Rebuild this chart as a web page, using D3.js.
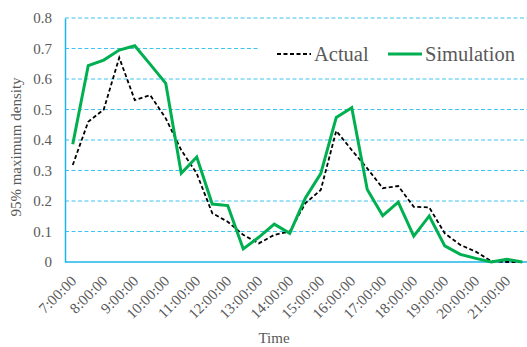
<!DOCTYPE html>
<html><head><meta charset="utf-8">
<script src="https://cdn.jsdelivr.net/npm/d3@7"></script>
<style>body{margin:0;background:#fff}svg{display:block}</style>
</head><body>
<svg id="c" width="527" height="347"></svg>
<script>
const times = ["7:00:00","7:30:00","8:00:00","8:30:00","9:00:00","9:30:00","10:00:00","10:30:00","11:00:00","11:30:00","12:00:00","12:30:00","13:00:00","13:30:00","14:00:00","14:30:00","15:00:00","15:30:00","16:00:00","16:30:00","17:00:00","17:30:00","18:00:00","18:30:00","19:00:00","19:30:00","20:00:00","20:30:00","21:00:00","21:30:00"];
const actual = [0.318,0.46,0.50,0.67,0.531,0.547,0.471,0.367,0.29,0.16,0.132,0.089,0.061,0.089,0.10,0.192,0.236,0.43,0.367,0.307,0.242,0.249,0.181,0.179,0.094,0.056,0.034,0.003,0,0];
const simulation = [0.386,0.644,0.662,0.695,0.709,0.648,0.586,0.291,0.344,0.19,0.185,0.043,0.081,0.124,0.094,0.209,0.29,0.474,0.506,0.238,0.152,0.196,0.085,0.151,0.053,0.025,0.012,0,0.009,0];
const tickLabels = ["7:00:00","8:00:00","9:00:00","10:00:00","11:00:00","12:00:00","13:00:00","14:00:00","15:00:00","16:00:00","17:00:00","18:00:00","19:00:00","20:00:00","21:00:00"];
const yTicks = [0,0.1,0.2,0.3,0.4,0.5,0.6,0.7,0.8];

const svg = d3.select("#c");
const font = "'Liberation Serif','Times New Roman',serif";
const x = d3.scalePoint().domain(times).range([65,530]).padding(0.5);
const y = d3.scaleLinear().domain([0,0.8]).range([262,18]);
const gridC = "#3fc3f0", axisC = "#1eb4ea", textC = "#595959";

svg.append("g").selectAll("line").data(yTicks.filter(d=>d>0)).join("line")
  .attr("x1",65).attr("x2",527).attr("y1",d=>y(d)).attr("y2",d=>y(d))
  .attr("stroke",gridC).attr("stroke-width",1).attr("stroke-dasharray","4,2.5");

const ya = svg.append("g").attr("transform","translate(65,0)")
  .call(d3.axisLeft(y).tickValues(yTicks).tickSize(0).tickPadding(13).tickFormat(d=>d===0?"0":d3.format(".1f")(d)));
ya.select(".domain").attr("stroke",axisC).attr("stroke-width",1.5);
ya.selectAll("text").attr("font-family",font).attr("font-size",15).attr("fill",textC);

const xa = svg.append("g").attr("transform","translate(0,262)")
  .call(d3.axisBottom(x).tickValues(tickLabels).tickSize(0).tickFormat(d=>d));
xa.select(".domain").attr("d","M65,0H527").attr("stroke",axisC).attr("stroke-width",1.5);
xa.selectAll("text").attr("font-family",font).attr("font-size",15).attr("fill",textC)
  .attr("text-anchor","end").attr("dy",0).attr("y",0)
  .attr("transform","translate(4,20) rotate(-45)");

const line = d3.line().x((d,i)=>x(times[i])).y(d=>y(d));
svg.append("path").datum(actual).attr("d",line).attr("fill","none")
  .attr("stroke","#000").attr("stroke-width",1.8).attr("stroke-dasharray","4,2.5");
svg.append("path").datum(simulation).attr("d",line).attr("fill","none")
  .attr("stroke","#00b050").attr("stroke-width",3).attr("stroke-linejoin","miter");

const lg = svg.append("g");
lg.append("rect").attr("x",259).attr("y",26).attr("width",268).attr("height",48).attr("fill","#fff");
lg.append("line").attr("x1",277).attr("x2",311).attr("y1",54).attr("y2",54)
  .attr("stroke","#000").attr("stroke-width",1.8).attr("stroke-dasharray","4,2.5");
lg.append("text").attr("x",314).attr("y",61).text("Actual")
  .attr("font-family",font).attr("font-size",20.5).attr("fill",textC);
lg.append("line").attr("x1",388).attr("x2",422).attr("y1",54).attr("y2",54)
  .attr("stroke","#00b050").attr("stroke-width",3);
lg.append("text").attr("x",425).attr("y",61).text("Simulation")
  .attr("font-family",font).attr("font-size",20.5).attr("fill",textC);

svg.append("text").attr("transform","translate(21,147) rotate(-90)").attr("text-anchor","middle")
  .attr("font-family",font).attr("font-size",15).attr("fill",textC).text("95% maximum density");
svg.append("text").attr("x",274).attr("y",343).attr("text-anchor","middle")
  .attr("font-family",font).attr("font-size",15).attr("fill",textC).text("Time");
</script>
</body></html>
